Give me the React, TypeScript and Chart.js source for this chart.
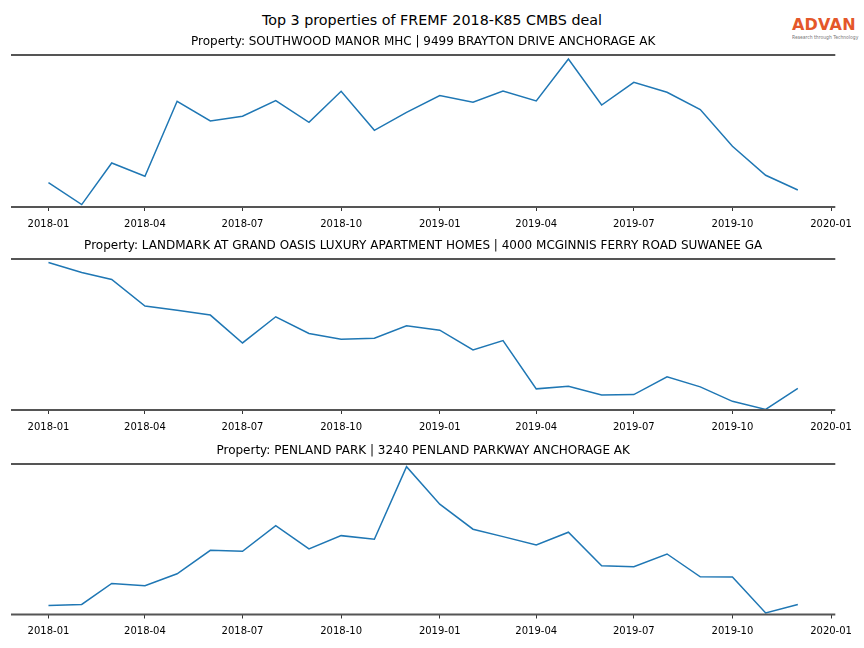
import React, { useEffect, useRef } from "react";
import { Chart, registerables } from "chart.js";

Chart.register(...registerables);

// ---------- data ----------
const months = [
  "2018-01", "2018-02", "2018-03", "2018-04", "2018-05", "2018-06",
  "2018-07", "2018-08", "2018-09", "2018-10", "2018-11", "2018-12",
  "2019-01", "2019-02", "2019-03", "2019-04", "2019-05", "2019-06",
  "2019-07", "2019-08", "2019-09", "2019-10", "2019-11", "2019-12",
];

const tickLabels = [
  "2018-01", "2018-04", "2018-07", "2018-10",
  "2019-01", "2019-04", "2019-07", "2019-10", "2020-01",
];

const mainTitle = "Top 3 properties of FREMF 2018-K85 CMBS deal";

const titles = [
  "Property: SOUTHWOOD MANOR MHC | 9499 BRAYTON DRIVE ANCHORAGE AK",
  "Property: LANDMARK AT GRAND OASIS LUXURY APARTMENT HOMES | 4000 MCGINNIS FERRY ROAD SUWANEE GA",
  "Property: PENLAND PARK | 3240 PENLAND PARKWAY ANCHORAGE AK",
];

// relative activity index
const southwood = [
  24.4, 2.4, 44, 30.7, 105.7, 86, 90.7, 106.4, 84.7, 115.7, 76.7, 94.7,
  111.4, 104.7, 116, 106, 148, 102, 124.7, 114.7, 97.4, 60.7, 31.7, 17,
];
const landmark = [
  146.6, 136.6, 129.6, 103.3, 99, 94.3, 66.6, 92.6, 76, 70.3, 71.3, 83.6,
  79.3, 59.6, 69, 21, 23.6, 15, 15.3, 33, 23, 8.6, 0.6, 21.6,
];
const penland = [
  9, 10, 31, 28.6, 40.6, 64, 63, 88.6, 65.3, 78.6, 75, 147.3,
  110, 85, 77.6, 69.3, 82, 48.6, 47.6, 60.3, 37.6, 37.3, 1.6, 10,
];

const seriesList = [southwood, landmark, penland];
const yMaxes = [152, 150, 150];

// ---------- layout / style ----------
const W = 864;
const spineTops = [55, 259, 464];
const padBottoms = [4, 3, 3.5];
const TITLE_BLOCK = 25;
const BOTTOM_BLOCK = 34;
const FONT = "'DejaVu Sans', sans-serif";

const BASE = Date.UTC(2018, 0, 1);
const dayOffset = (s: string) => {
  const [y, m] = s.split("-").map(Number);
  return (Date.UTC(y, m - 1, 1) - BASE) / 86400000;
};

const firstX = dayOffset(months[0]);
const lastX = dayOffset(months[months.length - 1]);
const marginX = (lastX - firstX) * 0.05;

const spinePlugin = {
  id: "spines",
  afterDatasetsDraw(chart: any) {
    const { ctx, chartArea } = chart;
    ctx.save();
    ctx.strokeStyle = "#555555";
    ctx.lineWidth = 2;
    ctx.beginPath();
    ctx.moveTo(chartArea.left, chartArea.top);
    ctx.lineTo(chartArea.right, chartArea.top);
    ctx.moveTo(chartArea.left, chartArea.bottom);
    ctx.lineTo(chartArea.right, chartArea.bottom);
    ctx.stroke();
    ctx.restore();
  },
};

function Panel({ index }: { index: number }) {
  const ref = useRef<HTMLCanvasElement>(null);
  const yMax = yMaxes[index];
  const height = TITLE_BLOCK + yMax + BOTTOM_BLOCK;
  const top = spineTops[index] - TITLE_BLOCK;

  useEffect(() => {
    if (!ref.current) return;
    const values = seriesList[index];
    const chart = new Chart(ref.current, {
      type: "line",
      data: {
        datasets: [
          {
            data: months.map((m, i) => ({ x: dayOffset(m), y: values[i] })),
            borderColor: "#1f77b4",
            borderWidth: 1.5,
            pointRadius: 0,
            tension: 0,
            fill: false,
          },
        ],
      },
      options: {
        animation: false,
        responsive: false,
        maintainAspectRatio: false,
        layout: {
          padding: { left: 11, right: 28.7, top: 0, bottom: padBottoms[index] },
        },
        plugins: {
          legend: { display: false },
          tooltip: { enabled: false },
          title: {
            display: true,
            text: titles[index],
            color: "#000",
            font: { family: FONT, size: 12, weight: "normal" },
            padding: { top: 4.8, bottom: 5.8 },
          },
        },
        scales: {
          x: {
            type: "linear",
            min: firstX - marginX,
            max: lastX + marginX,
            afterBuildTicks: (axis: any) => {
              axis.ticks = tickLabels.map((t) => ({ value: dayOffset(t) }));
            },
            ticks: {
              callback: (_v: any, i: number) => tickLabels[i],
              color: "#000",
              font: { family: FONT, size: 10 },
              padding: 7,
              maxRotation: 0,
              autoSkip: false,
            },
            grid: {
              display: true,
              drawOnChartArea: false,
              drawTicks: true,
              tickLength: 4,
              color: "#000",
              lineWidth: 0.8,
            },
            border: { display: false },
          },
          y: { display: false, min: 0, max: yMax },
        },
      },
      plugins: [spinePlugin],
    } as any);
    return () => chart.destroy();
  }, [index, yMax]);

  return (
    <canvas
      ref={ref}
      width={W}
      height={height}
      style={{ position: "absolute", left: 0, top, width: W, height }}
    />
  );
}

export default function App() {
  return (
    <div
      style={{
        position: "absolute",
        left: 0,
        top: 0,
        width: W,
        height: 648,
        background: "#fff",
        overflow: "hidden",
      }}
    >
      <div
        style={{
          position: "absolute",
          left: 0,
          top: 12,
          width: W,
          textAlign: "center",
          fontFamily: FONT,
          fontSize: 14.3,
          lineHeight: "17px",
          color: "#000",
        }}
      >
        {mainTitle}
      </div>
      <div
        style={{
          position: "absolute",
          left: 792,
          top: 16,
          width: 66,
          fontFamily: FONT,
          fontWeight: "bold",
          fontSize: 16,
          lineHeight: "18px",
          color: "#E4572A",
          letterSpacing: "0.2px",
        }}
      >
        ADVAN
      </div>
      <div
        style={{
          position: "absolute",
          left: 792,
          top: 35,
          fontFamily: FONT,
          fontSize: 9,
          lineHeight: "10px",
          color: "#777",
          whiteSpace: "nowrap",
          transform: "scale(0.5)",
          transformOrigin: "0 0",
        }}
      >
        Research through Technology
      </div>
      {[0, 1, 2].map((i) => (
        <Panel key={i} index={i} />
      ))}
    </div>
  );
}
